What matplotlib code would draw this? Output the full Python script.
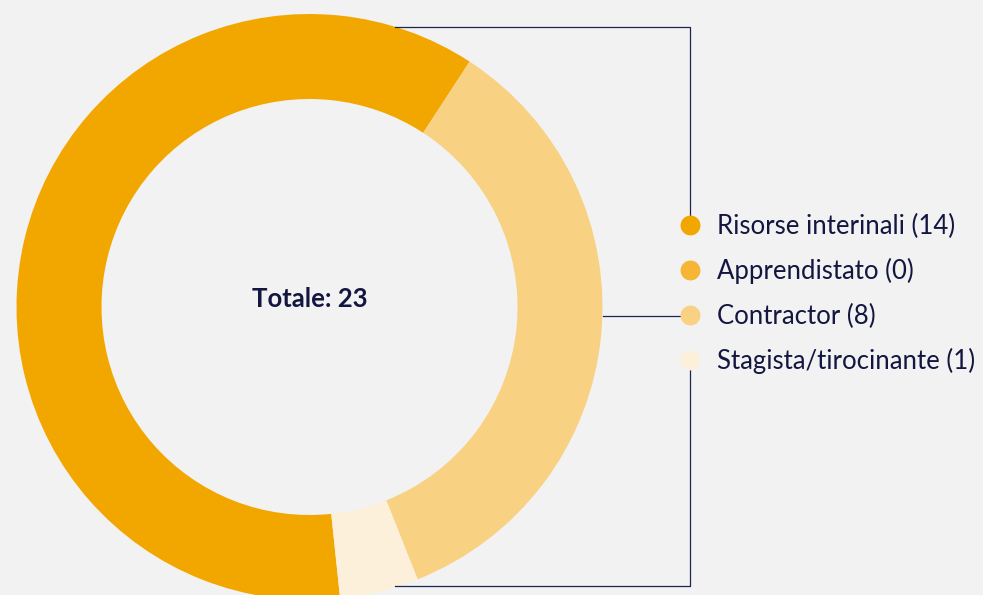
import matplotlib

matplotlib.use("Agg")
import matplotlib.pyplot as plt

# data
labels = ["Risorse interinali", "Apprendistato", "Contractor", "Stagista/tirocinante"]
counts = [14, 0, 8, 1]
colors = ["#F2A600", "#F5B535", "#F8D282", "#FCF0DB"]
total_label = "Totale: 23"

W, H = 983, 595
NAVY = "#13163F"
LINE = "#1F2350"
BG = "#F2F2F2"


def py(y):
    # pixel row (from top) -> data y
    return H - y


fig = plt.figure(figsize=(W / 100, H / 100), dpi=100, facecolor=BG)
ax = fig.add_axes([0, 0, 1, 1])

cx, cy, r_out, r_in = 309.5, py(307), 293, 208
ax.pie(
    counts,
    colors=colors,
    center=(cx, cy),
    radius=r_out,
    startangle=276,
    counterclock=False,
    wedgeprops=dict(width=r_out - r_in, linewidth=0),
    frame=True,
)
ax.set_xlim(0, W)
ax.set_ylim(0, H)
ax.set_aspect("equal")
ax.axis("off")

ax.text(cx, py(307), total_label, ha="center", va="baseline",
        fontsize=18.5, fontweight="bold", color=NAVY, family="Lato")

# connector lines
lx = 690
ax.plot([395, lx, lx], [py(26.5), py(26.5), py(225)], color=LINE, lw=0.9, zorder=1)
ax.plot([cx + r_out, lx], [py(316), py(316)], color=LINE, lw=0.9, zorder=1)
ax.plot([lx, lx, 395], [py(360), py(586), py(586)], color=LINE, lw=0.9, zorder=1)

# legend
y0, step = 225, 45
for i, (lab, n, c) in enumerate(zip(labels, counts, colors)):
    yy = y0 + i * step
    ax.scatter([lx], [py(yy)], s=205, color=c, linewidths=0, zorder=3)
    ax.text(717, py(yy + 9.5), f"{lab} ({n})", ha="left", va="baseline",
            fontsize=18.5, color=NAVY, family="Lato")

fig.savefig("out.png", dpi=100, facecolor=BG)
